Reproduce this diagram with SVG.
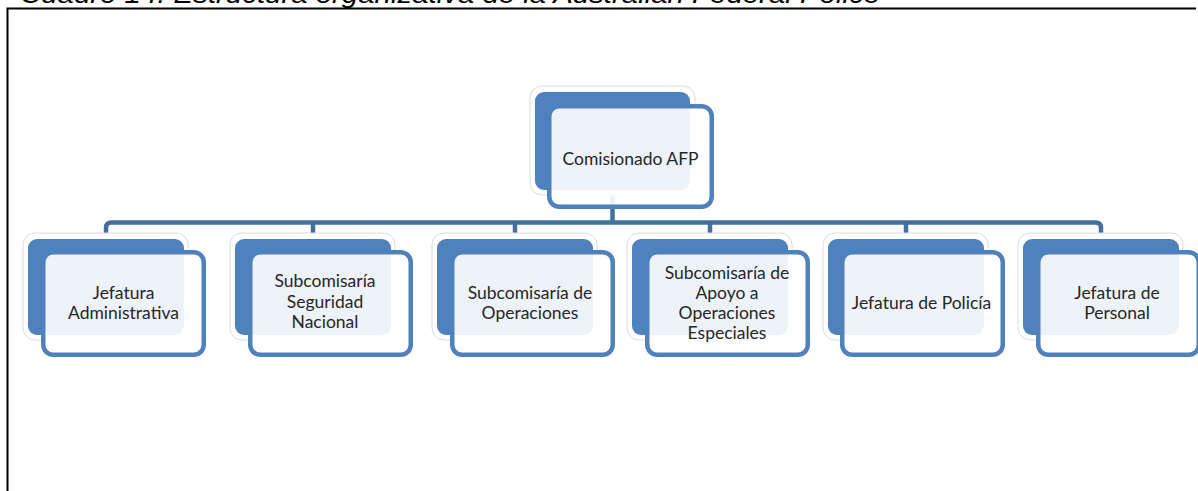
<svg xmlns="http://www.w3.org/2000/svg" width="1198" height="491" viewBox="0 0 1198 491">
<style>
.title{font-family:"Liberation Sans",Arial,sans-serif;font-style:italic;font-size:26px;fill:#000}
.glow{fill:#fff;stroke:#dcdcdc;stroke-width:1}
.back{fill:#4f81bd}
.front{fill:#fff;fill-opacity:0.9;stroke:#4f81bd;stroke-width:4.5}
.lbl{font-family:Lato,"Open Sans",sans-serif;font-size:17.5px;fill:#262626;text-anchor:middle}
.conn{fill:none;stroke:#41719c;stroke-width:4.5;stroke-linejoin:round}
</style>
<rect width="1198" height="491" fill="#fff"/>
<text class="title" x="20" y="3" textLength="860" lengthAdjust="spacingAndGlyphs">Cuadro 14. Estructura organizativa de la Australian Federal Police</text>
<path d="M7.5,491 V8.5 H1196" fill="none" stroke="#000" stroke-width="2"/>
<g id="connectors">
<path class="conn" d="M612.5,150 V222.5"/>
<path class="conn" d="M106,240 V228 Q106,222.5 111.5,222.5 H1095.5 Q1101,222.5 1101,228 V240"/>
<path class="conn" d="M313,222.5 V240 M515,222.5 V240 M710,222.5 V240 M906,222.5 V240"/>
</g>
<g id="n0">
<rect class="glow" x="530" y="86" width="165" height="109" rx="12"/>
<rect class="back" x="535" y="92" width="155" height="98" rx="9"/>
<rect class="front" x="549.25" y="106.25" width="162.5" height="100.5" rx="10"/>
<text class="lbl" x="630.5" y="165">Comisionado AFP</text>
</g>
<g id="n1">
<rect class="glow" x="23" y="233" width="165" height="107" rx="12"/>
<rect class="back" x="28" y="239" width="156" height="96" rx="9"/>
<rect class="front" x="43.25" y="252.25" width="160.5" height="102.5" rx="10"/>
<text class="lbl" x="123.5" y="299">Jefatura</text>
<text class="lbl" x="123.5" y="319">Administrativa</text>
</g>
<g id="n2">
<rect class="glow" x="230" y="233" width="165" height="107" rx="12"/>
<rect class="back" x="235" y="239" width="156" height="96" rx="9"/>
<rect class="front" x="250.25" y="252.25" width="160.5" height="102.5" rx="10"/>
<text class="lbl" x="325" y="287">Subcomisaría</text>
<text class="lbl" x="325" y="308">Seguridad</text>
<text class="lbl" x="325" y="328">Nacional</text>
</g>
<g id="n3">
<rect class="glow" x="432" y="233" width="165" height="107" rx="12"/>
<rect class="back" x="437" y="239" width="156" height="96" rx="9"/>
<rect class="front" x="452.25" y="252.25" width="160.5" height="102.5" rx="10"/>
<text class="lbl" x="530" y="299">Subcomisaría de</text>
<text class="lbl" x="530" y="319">Operaciones</text>
</g>
<g id="n4">
<rect class="glow" x="627" y="233" width="165" height="107" rx="12"/>
<rect class="back" x="632" y="239" width="156" height="96" rx="9"/>
<rect class="front" x="647.25" y="252.25" width="160.5" height="102.5" rx="10"/>
<text class="lbl" x="727" y="279">Subcomisaría de</text>
<text class="lbl" x="727" y="299">Apoyo a</text>
<text class="lbl" x="727" y="319">Operaciones</text>
<text class="lbl" x="727" y="339">Especiales</text>
</g>
<g id="n5">
<rect class="glow" x="823" y="233" width="165" height="107" rx="12"/>
<rect class="back" x="828" y="239" width="156" height="96" rx="9"/>
<rect class="front" x="842.25" y="252.25" width="160.5" height="102.5" rx="10"/>
<text class="lbl" x="921.5" y="309">Jefatura de Policía</text>
</g>
<g id="n6">
<rect class="glow" x="1018" y="233" width="165" height="107" rx="12"/>
<rect class="back" x="1023" y="239" width="156" height="96" rx="9"/>
<rect class="front" x="1038.25" y="252.25" width="160.5" height="102.5" rx="10"/>
<text class="lbl" x="1117" y="299">Jefatura de</text>
<text class="lbl" x="1117" y="319">Personal</text>
</g>
</svg>
